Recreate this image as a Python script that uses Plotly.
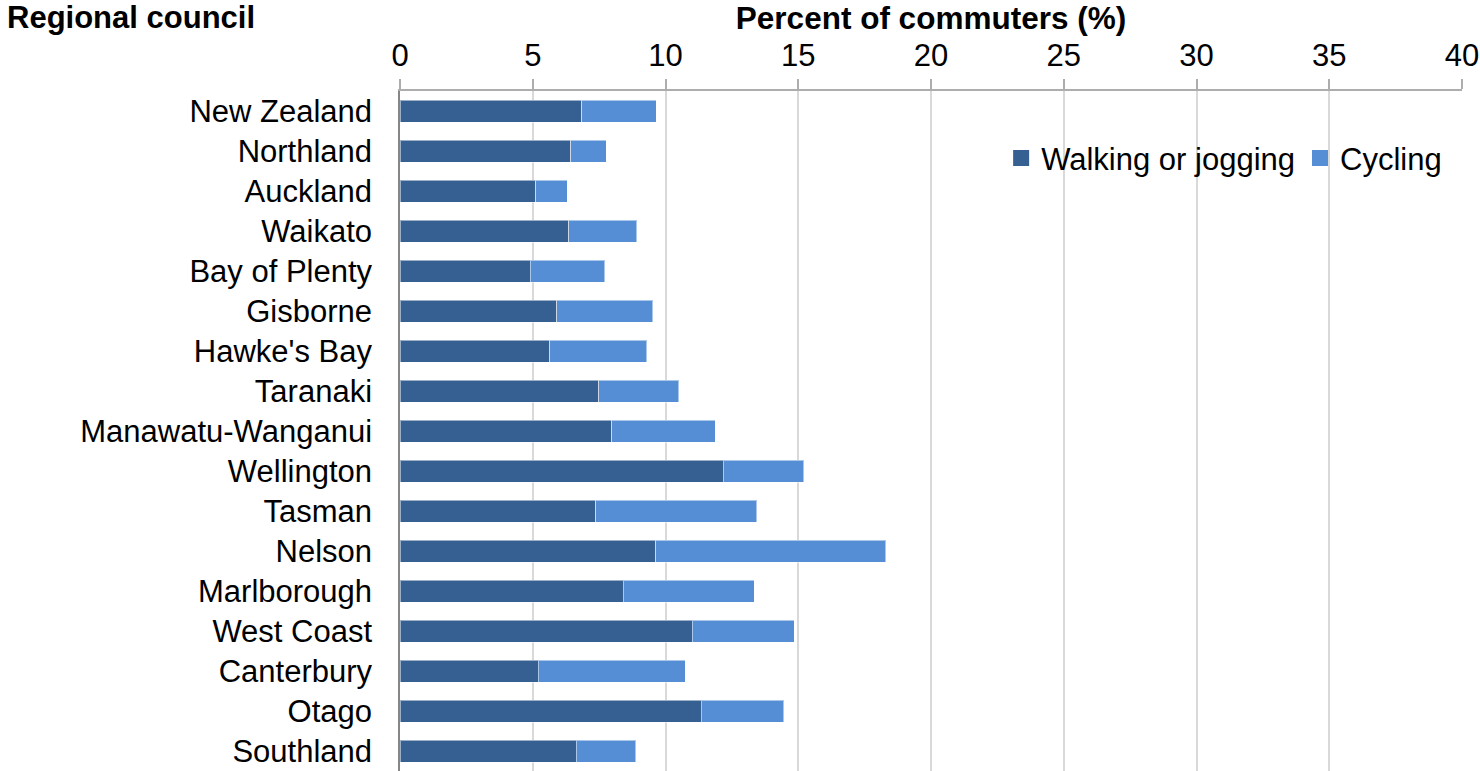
import plotly.graph_objects as go

regions = [
    "New Zealand", "Northland", "Auckland", "Waikato", "Bay of Plenty",
    "Gisborne", "Hawke's Bay", "Taranaki", "Manawatu-Wanganui", "Wellington",
    "Tasman", "Nelson", "Marlborough", "West Coast", "Canterbury", "Otago",
    "Southland",
]
walking = [6.85, 6.43, 5.11, 6.35, 4.90, 5.90, 5.64, 7.48, 7.97, 12.17,
           7.38, 9.63, 8.41, 11.01, 5.21, 11.34, 6.63]
cycling = [2.80, 1.34, 1.19, 2.56, 2.81, 3.62, 3.66, 3.01, 3.90, 3.03,
           6.05, 8.67, 4.94, 3.84, 5.54, 3.12, 2.25]
x_ticks = [0, 5, 10, 15, 20, 25, 30, 35, 40]

FONT = "Liberation Sans, Arial, sans-serif"
WALK_COLOR = "#376092"
CYCLE_COLOR = "#558ED5"
series = [("Walking or jogging", walking, WALK_COLOR), ("Cycling", cycling, CYCLE_COLOR)]

fig = go.Figure()
for name, values, color in series:
    fig.add_trace(go.Bar(
        y=regions, x=values, orientation="h", name=name, legendgroup=name,
        showlegend=False,
        marker=dict(color=color, line=dict(color="rgba(255,255,255,0.5)", width=1)),
    ))
# Legend entries with larger square swatches
for name, values, color in series:
    fig.add_trace(go.Scatter(
        x=[None], y=[None], mode="markers", name=name, legendgroup=name,
        marker=dict(symbol="square", size=16, color=color),
    ))

fig.update_layout(
    width=1480, height=771,
    margin=dict(l=400, r=18, t=91, b=0),
    barmode="stack",
    bargap=0.45,
    plot_bgcolor="white",
    paper_bgcolor="white",
    font=dict(family=FONT, size=31, color="black"),
    legend=dict(
        orientation="h", x=0.986, xanchor="right", y=0.901, yanchor="middle",
        bgcolor="rgba(0,0,0,0)", font=dict(size=31), traceorder="normal",
        itemsizing="trace",
    ),
    xaxis=dict(
        side="top", range=[0, 40], tickvals=x_ticks, ticktext=[str(v) for v in x_ticks],
        showgrid=True, gridcolor="#D9D9D9", gridwidth=1.5,
        showline=True, linecolor="#ADADAD", linewidth=1.5,
        ticks="outside", ticklen=10, tickcolor="#ADADAD", tickwidth=1.5,
        ticklabelstandoff=1,
        zeroline=False,
        title=dict(text="<b>Percent of commuters (%)</b>", standoff=6,
                   font=dict(size=31.5)),
        tickfont=dict(size=31),
    ),
    yaxis=dict(
        autorange="reversed", showgrid=False,
        showline=True, linecolor="#868686", linewidth=1.5,
        ticks="", ticklabelstandoff=20, tickfont=dict(size=31),
    ),
    annotations=[dict(
        text="<b>Regional council</b>", xref="paper", yref="paper",
        x=(5 - 400) / 1062, y=(771 - 18) / 680, xanchor="left", yanchor="middle",
        showarrow=False, font=dict(size=31, family=FONT),
    )],
)

fig.write_html("out.html")
